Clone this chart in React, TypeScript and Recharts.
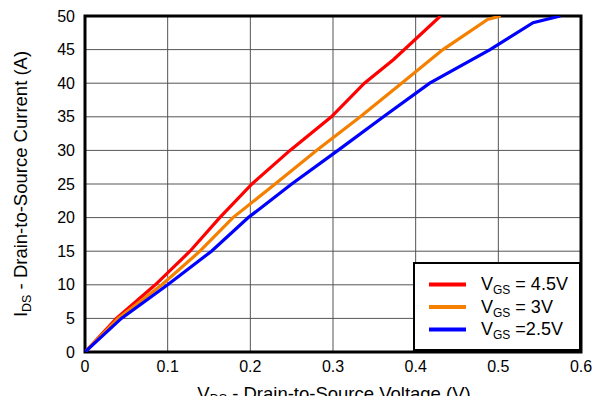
import {
  LineChart,
  Line,
  CartesianGrid,
  XAxis,
  YAxis,
  Legend,
  ReferenceArea,
} from "recharts";

// V_GS = 4.5V
const vds45 = [0, 0.038, 0.085, 0.127, 0.163, 0.202, 0.248, 0.298, 0.338, 0.373, 0.43];
const ids45 = [0, 5, 10, 15, 20, 25, 30, 35, 40, 43.5, 50];

// V_GS = 3V
const vds30 = [0, 0.04, 0.093, 0.139, 0.179, 0.23, 0.28, 0.333, 0.383, 0.433, 0.487, 0.503];
const ids30 = [0, 5, 10, 15, 20, 25, 30, 35, 40, 45, 49.5, 50];

// V_GS = 2.5V
const vds25 = [0, 0.044, 0.1, 0.153, 0.1975, 0.25, 0.306, 0.361, 0.417, 0.49, 0.542, 0.575];
const ids25 = [0, 5, 10, 15, 20, 25, 30, 35, 40, 45, 49, 50];

const xTicks = [0, 0.1, 0.2, 0.3, 0.4, 0.5, 0.6];
const yTicks = [0, 5, 10, 15, 20, 25, 30, 35, 40, 45, 50];

const seriesNames = [" = 4.5V", " = 3V", " =2.5V"];
const seriesColors = ["#ff0000", "#f58000", "#0000ff"];

const toPoints = (vds: number[], ids: number[]) =>
  vds.map((v, i) => ({ vds: v, ids: ids[i] }));

const series = [
  toPoints(vds45, ids45),
  toPoints(vds30, ids30),
  toPoints(vds25, ids25),
];

const FONT = "'Liberation Sans', Arial, sans-serif";

function VgsLegend() {
  return (
    <div
      style={{
        width: 168,
        height: 89,
        border: "2px solid #000",
        background: "#fff",
        boxSizing: "border-box",
      }}
    >
      <svg width={164} height={85} style={{ display: "block" }}>
        {seriesNames.map((name, i) => (
          <g key={name}>
            <line
              x1={14}
              x2={51}
              y1={20.5 + i * 22.5}
              y2={20.5 + i * 22.5}
              stroke={seriesColors[i]}
              strokeWidth={4}
            />
            <text x={66} y={26 + i * 22.5} fontSize={18} fontFamily={FONT} fill="#000">
              V
              <tspan fontSize={12} dy={4}>
                GS
              </tspan>
              <tspan dy={-4}>{name}</tspan>
            </text>
          </g>
        ))}
      </svg>
    </div>
  );
}

function XTitle() {
  return (
    <text x={334} y={399.5} textAnchor="middle" fontSize={18.5} fontFamily={FONT} fill="#000">
      V
      <tspan fontSize={12.5} dy={3}>
        DS
      </tspan>
      <tspan dy={-3}> - Drain-to-Source Voltage (V)</tspan>
    </text>
  );
}

function YTitle() {
  return (
    <text
      x={27}
      y={184}
      transform="rotate(-90, 27, 184)"
      textAnchor="middle"
      fontSize={18.5}
      fontFamily={FONT}
      fill="#000"
    >
      I
      <tspan fontSize={12.5} dy={4}>
        DS
      </tspan>
      <tspan dy={-4}> - Drain-to-Source Current (A)</tspan>
    </text>
  );
}

export default function App() {
  return (
    <div style={{ margin: -8, width: 604, height: 404, background: "#fff", position: "relative" }}>
      <LineChart
        width={604}
        height={404}
        margin={{ top: 16, right: 23, bottom: 0, left: 0 }}
      >
        <CartesianGrid stroke="#555" strokeWidth={1} />
        <XAxis
          type="number"
          dataKey="vds"
          domain={[0, 0.6]}
          ticks={xTicks}
          tickFormatter={(v: number) => (v === 0 ? "0" : v.toFixed(1))}
          height={52}
          tickSize={0}
          tickMargin={9}
          axisLine={false}
          tick={{ fill: "#000", fontSize: 16, fontFamily: FONT }}
          label={<XTitle />}
          allowDataOverflow
        />
        <YAxis
          type="number"
          dataKey="ids"
          domain={[0, 50]}
          ticks={yTicks}
          width={85}
          tickSize={0}
          tickMargin={10}
          axisLine={false}
          tick={{ fill: "#000", fontSize: 16, fontFamily: FONT }}
          label={<YTitle />}
          allowDataOverflow
        />
        {series.map((data, i) => (
          <Line
            key={seriesNames[i]}
            data={data}
            dataKey="ids"
            type="linear"
            stroke={seriesColors[i]}
            strokeWidth={3.2}
            dot={false}
            activeDot={false}
            isAnimationActive={false}
          />
        ))}
        <ReferenceArea
          x1={0}
          x2={0.6}
          y1={0}
          y2={50}
          fill="none"
          stroke="#000"
          strokeWidth={3}
          ifOverflow="visible"
        />
        <Legend
          layout="vertical"
          align="center"
          verticalAlign="middle"
          content={<VgsLegend />}
          wrapperStyle={{ position: "absolute", left: 413, top: 262, width: 168, height: 89 }}
        />
        <text x={578} y={402} fontSize={8.5} fontFamily={FONT} fill="#222">
          G001
        </text>
      </LineChart>
    </div>
  );
}
